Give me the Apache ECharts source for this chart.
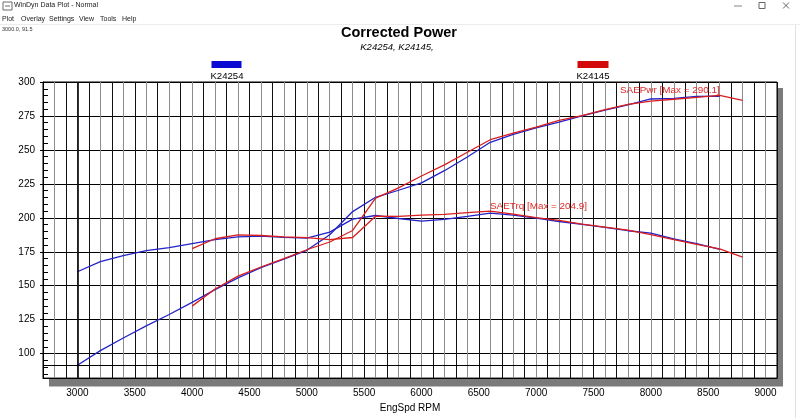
<!DOCTYPE html>
<html><head><meta charset="utf-8">
<script src="https://cdn.jsdelivr.net/npm/echarts@6/dist/echarts.min.js"></script>
<style>html,body{margin:0;padding:0;background:#fff;overflow:hidden}#c{width:800px;height:418px}</style>
</head><body><div id="c"></div>
<script>
// ---- data ----
const runNames = ['K24254', 'K24145'];
const rpmBlue = [3000,3200,3400,3600,3800,4000,4200,4400,4600,4800,5000,5200,5400,5600,5800,6000,6200,6400,6600,6800,7000,7200,7400,7600,7800,8000,8200,8400,8600];
const trqBlue = [160.3,167.8,172.2,175.8,178.0,181.0,184.0,186.0,186.5,185.6,185.0,189.5,199.0,201.7,199.5,197.6,198.8,201.0,203.4,202.0,199.8,197.3,195.2,193.0,190.5,188.8,184.5,181.0,176.8];
const pwrBlue = [91.5,102.2,111.5,120.5,128.8,137.8,147.1,155.8,163.3,169.6,176.1,187.6,204.6,215.1,220.3,225.7,234.7,244.8,255.6,261.5,266.3,270.5,275.0,279.3,283.2,287.5,288.0,289.4,289.5];
const rpmRed = [4000,4200,4400,4600,4800,5000,5200,5400,5600,5800,6000,6200,6400,6600,6800,7000,7200,7400,7600,7800,8000,8200,8400,8600,8800];
const trqRed = [177.3,184.6,187.5,187.0,186.0,185.4,184.0,185.5,201.2,201.0,202.0,202.5,203.8,204.9,202.7,200.2,198.2,195.3,193.2,190.9,187.7,184.0,180.5,177.2,171.0];
const pwrRed = [135.0,147.6,157.1,163.8,170.0,176.5,182.2,190.7,214.5,222.0,230.8,239.0,248.3,257.5,262.4,266.8,271.7,275.2,279.6,283.5,285.9,287.3,288.7,290.1,286.5];
const xLabelValues = [3000,3500,4000,4500,5000,5500,6000,6500,7000,7500,8000,8500,9000];
const yLabelValues = [100,125,150,175,200,225,250,275,300];
const yMinorTicks = [85,90,95,105,110,115,120,130,135,140,145,155,160,165,170,180,185,190,195,205,210,215,220,230,235,240,245,255,260,265,270,280,285,290,295];
const cursor = [3000.0, 91.5];
const annPwr = 'SAEPwr [Max = 290.1]';
const annTrq = 'SAETrq [Max = 204.9]';

const FONT = '"Liberation Sans", Arial, sans-serif';
const BLUE = '#2323c8';
const RED = '#d91e1e';
const zip = (xs, ys) => xs.map((x, i) => [x, ys[i]]);

const chart = echarts.init(document.getElementById('c'), null, {renderer: 'canvas'});

const lineStyle = (c) => ({color: c, width: 1.3});
const G = {left: 43, right: 23, top: 82, bottom: 37.5};

const option = {
  animation: false,
  backgroundColor: '#fff',
  textStyle: {fontFamily: FONT},
  grid: {
    left: G.left, right: G.right, top: G.top, bottom: G.bottom,
    show: true, backgroundColor: '#fff', borderColor: '#000', borderWidth: 1
  },
  xAxis: {
    type: 'value', min: 2700, max: 9100, interval: 100,
    name: 'EngSpd RPM', nameLocation: 'middle', nameGap: 24,
    nameTextStyle: {fontFamily: FONT, fontSize: 10, color: '#000'},
    axisLine: {show: true, lineStyle: {color: '#000', width: 1}},
    axisTick: {show: false},
    axisLabel: {
      interval: 0, margin: 10, fontFamily: FONT, fontSize: 10, color: '#000',
      showMinLabel: false, showMaxLabel: false,
      formatter: v => xLabelValues.indexOf(v) >= 0 ? String(v) : ''
    },
    splitLine: {show: true, lineStyle: {color: ['#111', '#8c8c8c'], width: 1}}
  },
  yAxis: [
    {
      type: 'value', min: 82, max: 300,
      axisLine: {show: true, lineStyle: {color: '#000', width: 1}},
      axisTick: {show: true, length: 3, customValues: yLabelValues, lineStyle: {color: '#000'}},
      axisLabel: {margin: 8, fontFamily: FONT, fontSize: 10, color: '#000', customValues: yLabelValues},
      splitLine: {show: true, lineStyle: {color: '#000', width: 1}}
    },
    {
      type: 'value', min: 82, max: 300, position: 'left',
      axisLine: {show: false},
      axisLabel: {show: false},
      splitLine: {show: false},
      axisTick: {show: true, inside: true, length: 5, customValues: yMinorTicks, lineStyle: {color: '#000'}}
    }
  ],
  series: [
    {
      name: runNames[0] + ' SAETrq', type: 'line', data: zip(rpmBlue, trqBlue),
      showSymbol: false, symbol: 'none', lineStyle: lineStyle(BLUE), z: 3,
      markLine: {
        silent: true, symbol: 'none', label: {show: false},
        data: [
          {xAxis: cursor[0], lineStyle: {color: '#000', width: 1.6, type: 'solid'}},
          {yAxis: cursor[1], lineStyle: {color: '#000', width: 1, type: 'solid'}}
        ]
      }
    },
    {name: runNames[0] + ' SAEPwr', type: 'line', data: zip(rpmBlue, pwrBlue), showSymbol: false, symbol: 'none', lineStyle: lineStyle(BLUE), z: 3},
    {name: runNames[1] + ' SAETrq', type: 'line', data: zip(rpmRed, trqRed), showSymbol: false, symbol: 'none', lineStyle: lineStyle(RED), z: 4},
    {name: runNames[1] + ' SAEPwr', type: 'line', data: zip(rpmRed, pwrRed), showSymbol: false, symbol: 'none', lineStyle: lineStyle(RED), z: 4}
  ],
  graphic: [
    // plot drop shadow (behind the grid)
    {type: 'rect', z: -100, silent: true,
     shape: {x: G.left + 6, y: G.top + 6, width: 800 - G.left - G.right, height: 418 - G.top - G.bottom},
     style: {fill: '#7a7a7a'}},
    // window chrome
    {type: 'rect', shape: {x: 3, y: 2, width: 9, height: 8}, style: {fill: '#fff', stroke: '#6a6a6a', lineWidth: 1}},
    {type: 'line', shape: {x1: 5, y1: 6, x2: 10, y2: 6}, style: {stroke: '#6a6a6a', lineWidth: 1}},
    {type: 'text', left: 14, top: 2, style: {text: 'WinDyn Data Plot - Normal', font: '7px ' + FONT, fill: '#222'}},
    {type: 'line', shape: {x1: 734, y1: 6, x2: 742, y2: 6}, style: {stroke: '#888', lineWidth: 1}},
    {type: 'rect', shape: {x: 759, y: 2.5, width: 6, height: 6}, style: {fill: 'none', stroke: '#666', lineWidth: 1}},
    {type: 'line', shape: {x1: 783, y1: 2.5, x2: 789, y2: 8.5}, style: {stroke: '#666', lineWidth: 1}},
    {type: 'line', shape: {x1: 789, y1: 2.5, x2: 783, y2: 8.5}, style: {stroke: '#666', lineWidth: 1}},
    {type: 'text', left: 2, top: 15.5, style: {text: 'Plot', font: '7px ' + FONT, fill: '#222'}},
    {type: 'text', left: 21, top: 15.5, style: {text: 'Overlay', font: '7px ' + FONT, fill: '#222'}},
    {type: 'text', left: 49, top: 15.5, style: {text: 'Settings', font: '7px ' + FONT, fill: '#222'}},
    {type: 'text', left: 79, top: 15.5, style: {text: 'View', font: '7px ' + FONT, fill: '#222'}},
    {type: 'text', left: 100, top: 15.5, style: {text: 'Tools', font: '7px ' + FONT, fill: '#222'}},
    {type: 'text', left: 122, top: 15.5, style: {text: 'Help', font: '7px ' + FONT, fill: '#222'}},
    {type: 'line', shape: {x1: 0, y1: 24.5, x2: 800, y2: 24.5}, style: {stroke: '#ececec', lineWidth: 1}},
    {type: 'text', left: 2, top: 26.5, style: {text: cursor[0].toFixed(1) + ', ' + cursor[1].toFixed(1), font: '5.5px ' + FONT, fill: '#333'}},
    {type: 'line', shape: {x1: 795.5, y1: 25, x2: 795.5, y2: 418}, style: {stroke: '#e2e2e2', lineWidth: 1}},
    // titles
    {type: 'text', x: 399, y: 33, style: {text: 'Corrected Power', font: 'bold 14.5px ' + FONT, fill: '#000', align: 'center', verticalAlign: 'middle'}},
    {type: 'text', x: 397, y: 47, style: {text: runNames.join(', ') + ',', font: 'italic 9.5px ' + FONT, fill: '#000', align: 'center', verticalAlign: 'middle'}},
    // legend
    {type: 'rect', shape: {x: 211.5, y: 61, width: 30, height: 7}, style: {fill: '#0a0ad2'}},
    {type: 'text', x: 227, y: 76, style: {text: runNames[0], font: '9.6px ' + FONT, fill: '#000', align: 'center', verticalAlign: 'middle'}},
    {type: 'rect', shape: {x: 577.5, y: 61, width: 31, height: 7}, style: {fill: '#d20a0a'}},
    {type: 'text', x: 593, y: 76, style: {text: runNames[1], font: '9.6px ' + FONT, fill: '#000', align: 'center', verticalAlign: 'middle'}},
    // annotations
    {type: 'text', x: 620, y: 90, z: 10, style: {text: annPwr, font: '9.9px ' + FONT, fill: '#e02828', align: 'left', verticalAlign: 'middle'}},
    {type: 'text', x: 490, y: 206, z: 10, style: {text: annTrq, font: '9.9px ' + FONT, fill: '#e02828', align: 'left', verticalAlign: 'middle'}}
  ]
};
chart.setOption(option);
</script>
</body></html>
